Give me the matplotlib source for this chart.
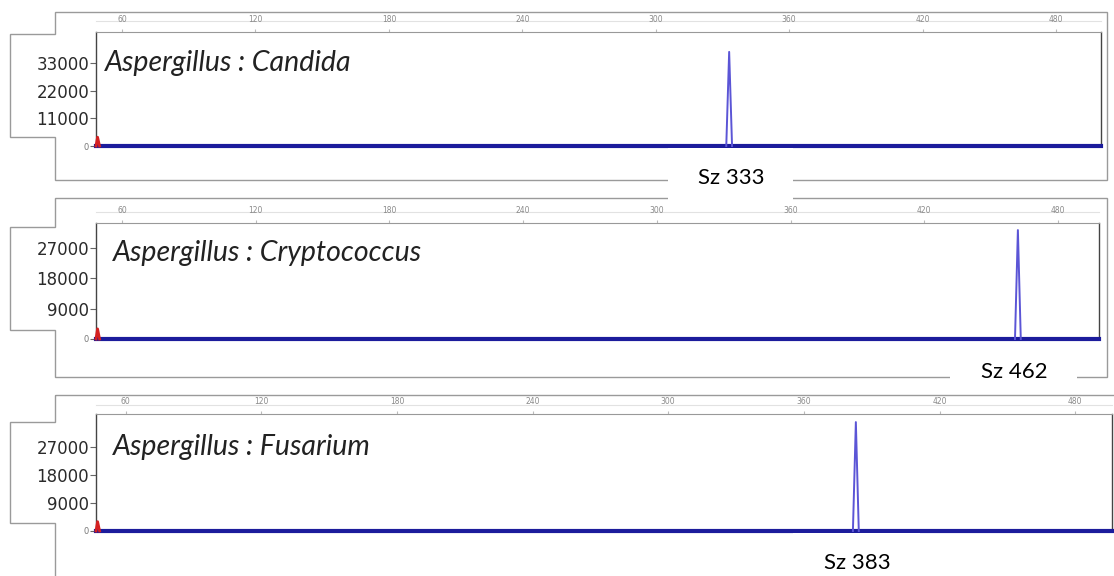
import matplotlib
matplotlib.use("Agg")
import matplotlib.pyplot as plt
from matplotlib.patches import Polygon, Rectangle
from matplotlib.lines import Line2D

W, H = 1114, 576

# Data
titles = ["Aspergillus : Candida", "Aspergillus : Cryptococcus", "Aspergillus : Fusarium"]
peak_sizes = [333, 462, 383]
peak_heights = [37400, 32300, 35000]
size_labels = ["Sz 333", "Sz 462", "Sz 383"]
y_ticks = [[0, 11000, 22000, 33000],
           [0, 9000, 18000, 27000],
           [0, 9000, 18000, 27000]]
x_ticks = [60, 120, 180, 240, 300, 360, 420, 480]
start_blips = [3500, 3000, 3000]  # small red signal at the start of each trace

# Layout of each panel in pixels (left, top, right, bottom)
panels = [
    dict(ax=(96, 32, 1101, 146), xlim=(48.3, 500.2), ytop=45300,
         frame=(55, 12, 1107, 180), tab=(10, 34, 137), title=(105, 63),
         sz=(668, 148, 793, 205), row_y=21),
    dict(ax=(96, 223, 1099, 339), xlim=(48.3, 498.4), ytop=34400,
         frame=(55, 198, 1107, 377), tab=(10, 227, 330), title=(113, 253),
         sz=(950, 342, 1077, 390), row_y=212),
    dict(ax=(96, 414, 1112, 531), xlim=(46.9, 496.3), ytop=37600,
         frame=(55, 395, 1125, 600), tab=(10, 422, 523), title=(113, 447),
         sz=(793, 533, 920, 590), row_y=405),
]


def fx(px):
    return px / W


def fy(py):
    return 1 - py / H


fig = plt.figure(figsize=(W / 100, H / 100), dpi=100)
fig.patch.set_facecolor("white")

for i, p in enumerate(panels):
    # outer frame with the tab holding the y labels
    fl, ft, fr, fb = p["frame"]
    tx, tt, tb = p["tab"]
    pts = [(fl, ft), (fr, ft), (fr, fb), (fl, fb), (fl, tb), (tx, tb), (tx, tt), (fl, tt)]
    poly = Polygon([(fx(a), fy(b)) for a, b in pts], closed=True, fill=False,
                   edgecolor="#9a9a9a", lw=1, transform=fig.transFigure, zorder=-1)
    fig.add_artist(poly)

    l, t, r, b = p["ax"]
    ax = fig.add_axes([fx(l), fy(b), fx(r) - fx(l), fy(t) - fy(b)])
    ax.set_xlim(*p["xlim"])
    ax.set_ylim(0, p["ytop"])

    # faint line through the size-scale row
    fig.add_artist(Line2D([fx(l), fx(r)], [fy(p["row_y"]), fy(p["row_y"])],
                          color="#e2e2e2", lw=0.8, transform=fig.transFigure, zorder=-1))

    # trace: baseline and the single peak
    x0, x1 = p["xlim"]
    ps, ph = peak_sizes[i], peak_heights[i]
    ax.plot([x0, x1], [0, 0], color="#1c1c9c", lw=3, clip_on=False, zorder=3)
    ax.plot([ps - 1.3, ps, ps + 1.3], [0, ph, 0],
            color="#5b55d6", lw=1.4, zorder=4, clip_on=False)
    ax.plot([x0, x0 + 0.7, x0 + 1.6], [0, start_blips[i], 0],
            color="#d42020", lw=2, zorder=5, clip_on=False)

    # axes styling
    for s in ["left", "right", "bottom"]:
        ax.spines[s].set_color("#444444")
        ax.spines[s].set_linewidth(1)
    ax.spines["top"].set_color("#999999")
    ax.spines["top"].set_linewidth(0.8)

    ax.xaxis.tick_top()
    ax.set_xticks(x_ticks, labels=[str(v) for v in x_ticks])
    ax.tick_params(axis="x", labelsize=5.5, labelcolor="#8a8a8a", length=2,
                   color="#bbbbbb", pad=3.5)

    ax.set_yticks(y_ticks[i], labels=[str(v) for v in y_ticks[i]])
    ax.tick_params(axis="y", labelsize=12, labelcolor="#2a2a2a", length=4,
                   color="#666666", pad=1, direction="out")
    zero_lbl = ax.get_yticklabels()[0]
    zero_lbl.set_fontsize(6)
    zero_lbl.set_color("#777777")

    # sample title
    fig.text(fx(p["title"][0]), fy(p["title"][1]), titles[i], family="Lato",
             style="italic", fontsize=20.5, color="#222222", va="center", ha="left")

    # size call box
    sl, st, sr, sb = p["sz"]
    fig.add_artist(Rectangle((fx(sl), fy(sb)), fx(sr) - fx(sl), fy(st) - fy(sb),
                             facecolor="white", edgecolor="none",
                             transform=fig.transFigure, zorder=6))
    fig.text(fx((sl + sr) / 2 + 1), fy(st + 30), size_labels[i], family="Lato",
             fontsize=16, color="black", ha="center", va="center", zorder=7)

fig.savefig("out.png", dpi=100)
